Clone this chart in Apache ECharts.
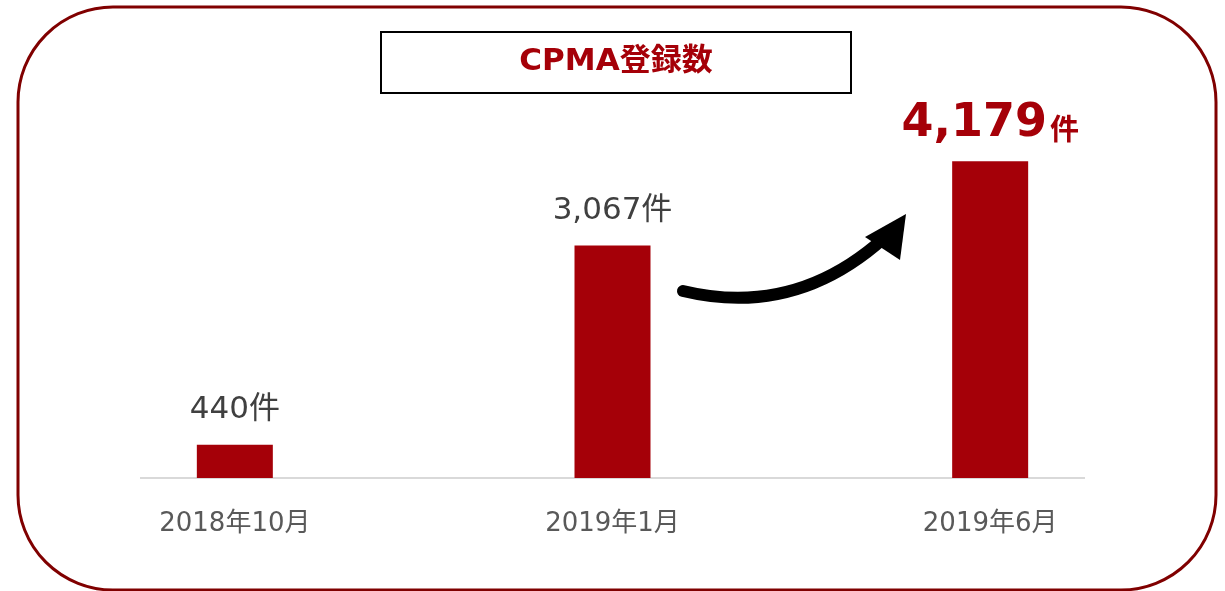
<!DOCTYPE html>
<html>
<head>
<meta charset="utf-8">
<script src="https://cdn.jsdelivr.net/npm/echarts@6/dist/echarts.min.js"></script>
<style>
  html, body { margin: 0; padding: 0; background: #fff; }
  #main { width: 1225px; height: 591px; }
</style>
</head>
<body>
<div id="main"></div>
<script>
var categories = ['2018年10月', '2019年1月', '2019年6月'];
var counts = [440, 3067, 4179];
var titleText = 'CPMA登録数';

var red = '#a50008';
var dom = document.getElementById('main');
var myChart = echarts.init(dom);

function fmt(v) {
    return String(v).replace(/\B(?=(\d{3})+(?!\d))/g, ',');
}

var barData = counts.map(function (v, i) {
    var last = i === counts.length - 1;
    return {
        value: v,
        label: last ? {
            distance: 14,
            formatter: '{num|' + fmt(v) + '}{unit|件}'
        } : {
            distance: 19,
            formatter: fmt(v) + '件'
        }
    };
});

var option = {
    backgroundColor: '#fff',
    animation: false,
    grid: { left: 46, right: 46, top: 99, bottom: 113 },
    xAxis: {
        type: 'category',
        data: categories,
        axisLine: { show: false },
        axisTick: { show: false },
        axisLabel: {
            margin: 33,
            fontSize: 26,
            color: '#595959',
            fontFamily: 'DejaVu Sans, Noto Sans CJK JP'
        }
    },
    yAxis: {
        type: 'value',
        min: 0,
        max: 5000,
        show: false,
        splitLine: { show: false }
    },
    series: [{
        type: 'bar',
        barWidth: 76,
        data: barData,
        itemStyle: { color: red },
        label: {
            show: true,
            position: 'top',
            fontSize: 31,
            color: '#404040',
            fontFamily: 'DejaVu Sans, Noto Sans CJK JP',
            rich: {
                num: {
                    fontSize: 46,
                    fontWeight: 'bold',
                    color: red,
                    fontFamily: 'DejaVu Sans'
                },
                unit: {
                    fontSize: 29,
                    fontWeight: 'bold',
                    color: red,
                    fontFamily: 'Noto Sans CJK JP',
                    verticalAlign: 'bottom',
                    padding: [0, 0, 4, 3]
                }
            }
        }
    }],
    graphic: [
        {
            // outer rounded frame
            type: 'rect',
            z: -1,
            shape: { x: 18, y: 7, width: 1198, height: 583, r: 95 },
            style: { fill: 'none', stroke: '#800000', lineWidth: 3 }
        },
        {
            // title box
            type: 'rect',
            shape: { x: 381, y: 32, width: 470, height: 61 },
            style: { fill: '#fff', stroke: '#000', lineWidth: 2 }
        },
        {
            type: 'text',
            x: 616,
            y: 62,
            style: {
                text: titleText,
                fill: red,
                font: 'bold 31px "DejaVu Sans", "Noto Sans CJK JP"',
                align: 'center',
                verticalAlign: 'middle'
            }
        },
        {
            // baseline
            type: 'line',
            shape: { x1: 140, y1: 478, x2: 1085, y2: 478 },
            style: { stroke: '#d9d9d9', lineWidth: 2 }
        },
        {
            // curved arrow
            type: 'bezierCurve',
            shape: { x1: 683, y1: 291, x2: 884, y2: 238, cpx1: 795, cpy1: 318 },
            style: { stroke: '#000', lineWidth: 12, lineCap: 'round', fill: 'none' }
        },
        {
            type: 'polygon',
            shape: { points: [[906, 214], [865, 237], [900, 260]] },
            style: { fill: '#000' }
        }
    ]
};

myChart.setOption(option);
</script>
</body>
</html>
